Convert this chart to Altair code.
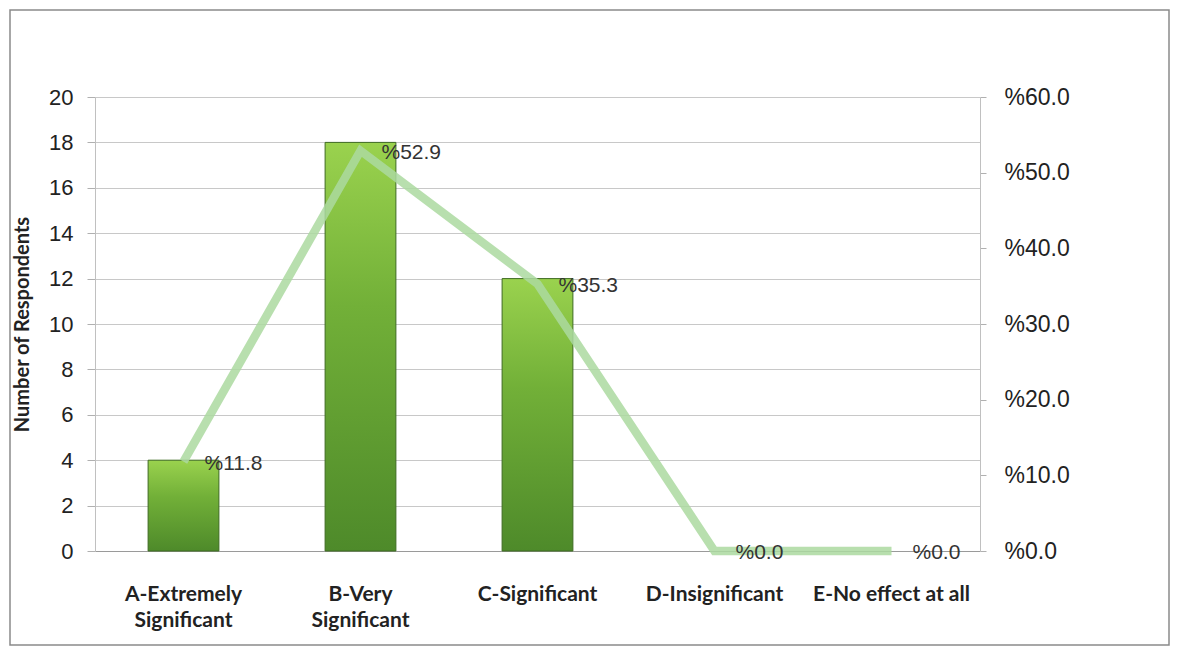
import altair as alt
import pandas as pd

categories = ["A-Extremely Significant", "B-Very Significant", "C-Significant",
              "D-Insignificant", "E-No effect at all"]
axis_lines = [["A-Extremely", "Significant"], ["B-Very", "Significant"],
              ["C-Significant"], ["D-Insignificant"], ["E-No effect at all"]]
respondents = [4, 18, 12, 0, 0]
percents = [11.8, 52.9, 35.3, 0.0, 0.0]
left_ticks = list(range(0, 21, 2))
right_ticks = [0, 10, 20, 30, 40, 50, 60]

df = pd.DataFrame({"category": categories, "respondents": respondents, "percent": percents})
df["label"] = ["%" + f"{p:.1f}" for p in percents]

label_expr = ""
for cat, lines in zip(categories, axis_lines):
    arr = "[" + ",".join("'" + l + "'" for l in lines) + "]"
    label_expr += f"datum.value == '{cat}' ? {arr} : "
label_expr += "datum.value"

x_enc = alt.X(
    "category:N", sort=categories,
    scale=alt.Scale(paddingInner=0.6, paddingOuter=0.3),
    axis=alt.Axis(title=None, labelAngle=0, labelExpr=label_expr,
                  labelFont="Lato", labelFontWeight="bold", labelFontSize=21,
                  labelColor="#222222", labelPadding=32, labelLineHeight=26,
                  labelBaseline="top", ticks=False, domainColor="#9a9a9a",
                  domainWidth=1.2, labelLimit=300),
)

base = alt.Chart(df)

gradient = alt.Gradient(
    gradient="linear",
    stops=[alt.GradientStop(color="#4e8a2a", offset=0),
           alt.GradientStop(color="#72b038", offset=0.6),
           alt.GradientStop(color="#9ad24e", offset=1)],
    x1=0, y1=1, x2=0, y2=0,
)

bars = base.transform_filter("datum.respondents > 0").mark_bar(
    color=gradient, stroke="#3e6b22", strokeWidth=1).encode(
    x=x_enc,
    y=alt.Y("respondents:Q", scale=alt.Scale(domain=[0, 20]),
            axis=alt.Axis(values=left_ticks, title="Number of Respondents",
                          titleFont="Lato", titleFontWeight="bold", titleFontSize=20,
                          titleColor="#222222", titlePadding=16,
                          labelFont="Liberation Sans", labelFontSize=22,
                          labelColor="#222222", labelPadding=14,
                          grid=True, gridColor="#c8c8c8", gridWidth=1.2,
                          tickColor="#b0b0b0", tickSize=8,
                          domainColor="#c0c0c0")),
)

line = base.mark_line(color="#acd9a0", strokeWidth=8.5, opacity=0.85).encode(
    x=x_enc,
    y=alt.Y("percent:Q", scale=alt.Scale(domain=[0, 60]),
            axis=alt.Axis(orient="right", values=right_ticks, title=None,
                          labelExpr="'%' + format(datum.value, '.1f')",
                          labelFont="Liberation Sans", labelFontSize=23,
                          labelColor="#222222", labelPadding=18,
                          grid=False, tickColor="#b0b0b0", tickSize=6,
                          domainColor="#c0c0c0")),
)

text = base.mark_text(align="left", baseline="middle", dx=21, dy=2,
                      font="Liberation Sans", fontSize=21, color="#333333").encode(
    x=x_enc,
    y=alt.Y("percent:Q", scale=alt.Scale(domain=[0, 60]), axis=None),
    text="label:N",
)

border = alt.Chart(pd.DataFrame({"k": [0]})).mark_rect(
    fill=None, stroke="#8a8a8a", strokeWidth=1.5).encode(
    x=alt.value(-85), x2=alt.value(1074), y=alt.value(-87), y2=alt.value(548))

chart = alt.layer(border, bars, line, text).resolve_scale(y="independent").properties(
    width=885, height=454,
    autosize=alt.AutoSizeParams(type="none"),
    padding={"left": 87, "top": 89, "right": 192, "bottom": 96},
    background="white",
).configure_view(stroke=None)

chart.save("out.html", embed_options={"renderer": "svg", "actions": False})
